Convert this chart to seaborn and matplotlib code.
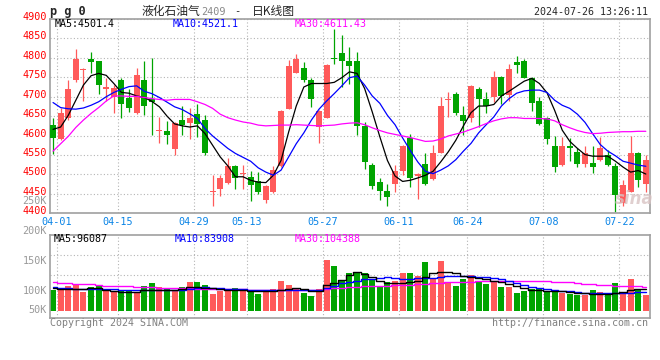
import matplotlib
matplotlib.use("Agg")
import matplotlib.pyplot as plt
import matplotlib.transforms as mtransforms
import numpy as np
import pandas as pd
import seaborn as sns

# pg0 daily bars, 2024-04-01 .. 2024-07-26 (79 sessions)
opens = [4628, 4592, 4644, 4742, 4768, 4797, 4791, 4721, 4699, 4744,
         4697, 4657, 4742, 4694, 4611, 4613, 4565, 4639, 4632, 4656,
         4641, 4456, 4463, 4479, 4521, 4500, 4494, 4483, 4433, 4455,
         4521, 4668, 4761, 4773, 4744, 4622, 4646, 4800, 4812, 4792,
         4791, 4625, 4524, 4481, 4457, 4475, 4508, 4594, 4496, 4528,
         4487, 4554, 4692, 4706, 4654, 4644, 4721, 4695, 4700, 4752,
         4704, 4790, 4791, 4749, 4690, 4644, 4574, 4524, 4574, 4558,
         4526, 4529, 4536, 4549, 4522, 4427, 4455, 4556, 4475]
highs = [4644, 4671, 4742, 4822, 4774, 4815, 4791, 4747, 4730, 4747,
         4720, 4773, 4792, 4800, 4648, 4637, 4635, 4675, 4670, 4680,
         4652, 4498, 4498, 4542, 4524, 4524, 4509, 4506, 4472, 4521,
         4665, 4794, 4810, 4790, 4747, 4667, 4785, 4873, 4859, 4828,
         4816, 4635, 4529, 4491, 4476, 4525, 4577, 4603, 4504, 4555,
         4577, 4700, 4711, 4711, 4675, 4730, 4725, 4711, 4766, 4754,
         4784, 4804, 4796, 4751, 4700, 4647, 4600, 4596, 4594, 4568,
         4572, 4573, 4596, 4562, 4530, 4486, 4599, 4558, 4549]
lows = [4553, 4588, 4640, 4738, 4689, 4760, 4707, 4690, 4659, 4646,
        4660, 4655, 4652, 4601, 4582, 4579, 4549, 4601, 4591, 4596,
        4549, 4420, 4445, 4476, 4462, 4463, 4431, 4450, 4426, 4453,
        4519, 4668, 4760, 4738, 4673, 4581, 4646, 4785, 4725, 4734,
        4601, 4515, 4462, 4433, 4420, 4455, 4498, 4467, 4436, 4472,
        4485, 4554, 4647, 4652, 4601, 4634, 4622, 4657, 4687, 4681,
        4689, 4762, 4747, 4663, 4628, 4579, 4505, 4522, 4534, 4518,
        4520, 4503, 4534, 4522, 4403, 4420, 4455, 4468, 4455]
closes = [4594, 4659, 4721, 4798, 4770, 4789, 4730, 4724, 4723, 4682,
          4671, 4757, 4676, 4687, 4613, 4601, 4632, 4628, 4644, 4631,
          4554, 4458, 4492, 4521, 4491, 4502, 4472, 4454, 4469, 4512,
          4663, 4780, 4797, 4743, 4694, 4664, 4781, 4797, 4792, 4779,
          4625, 4532, 4470, 4457, 4441, 4510, 4573, 4491, 4502, 4476,
          4556, 4676, 4694, 4659, 4637, 4727, 4695, 4676, 4752, 4702,
          4771, 4781, 4749, 4683, 4631, 4591, 4518, 4572, 4569, 4526,
          4556, 4518, 4569, 4524, 4446, 4474, 4556, 4485, 4536]

ma5 = [4616, 4622, 4652, 4691, 4730, 4754, 4760, 4755, 4734, 4711,
       4709, 4702, 4698, 4688, 4674, 4650, 4630, 4625, 4622, 4625,
       4605, 4575, 4545, 4522, 4494, 4494, 4485, 4480, 4479, 4498,
       4536, 4609, 4676, 4725, 4734, 4734, 4734, 4737, 4749, 4764,
       4760, 4721, 4661, 4597, 4536, 4496, 4482, 4485, 4491, 4498,
       4508, 4532, 4558, 4588, 4625, 4659, 4676, 4676, 4680, 4702,
       4714, 4727, 4740, 4747, 4734, 4710, 4665, 4614, 4585, 4567,
       4551, 4547, 4547, 4547, 4534, 4519, 4506, 4510, 4501]
ma10 = [4685, 4672, 4669, 4668, 4671, 4678, 4687, 4700, 4711, 4719,
        4726, 4728, 4714, 4708, 4698, 4686, 4674, 4667, 4656, 4644,
        4618, 4599, 4583, 4567, 4554, 4544, 4534, 4517, 4506, 4498,
        4511, 4545, 4579, 4607, 4640, 4668, 4689, 4708, 4728, 4749,
        4753, 4730, 4702, 4683, 4652, 4628, 4594, 4562, 4532, 4508,
        4502, 4511, 4522, 4538, 4560, 4580, 4607, 4628, 4648, 4676,
        4695, 4709, 4715, 4717, 4717, 4711, 4691, 4678, 4670, 4655,
        4634, 4605, 4577, 4560, 4548, 4534, 4529, 4524, 4521]
ma30 = [4560, 4579, 4598, 4621, 4640, 4657, 4672, 4689, 4702, 4702,
        4701, 4701, 4698, 4695, 4693, 4691, 4693, 4693, 4693, 4687,
        4680, 4670, 4655, 4646, 4640, 4635, 4632, 4627, 4625, 4626,
        4627, 4627, 4628, 4627, 4626, 4625, 4626, 4627, 4630, 4632,
        4633, 4628, 4620, 4613, 4607, 4603, 4599, 4595, 4590, 4585,
        4586, 4591, 4599, 4604, 4609, 4616, 4623, 4631, 4638, 4643,
        4646, 4646, 4644, 4644, 4644, 4643, 4638, 4628, 4620, 4613,
        4608, 4605, 4606, 4608, 4609, 4610, 4610, 4611, 4611]

# volume in thousands
volume = [101.1, 103.9, 107.8, 109.4, 98.3, 106.7, 108.3, 99.4, 99.4, 99.4,
          100.0, 98.3, 107.8, 113.3, 106.7, 103.9, 100.0, 106.7, 115.0, 115.0,
          108.9, 95.0, 100.0, 102.8, 105.0, 101.1, 101.1, 95.0, 100.6, 102.8,
          116.1, 109.4, 105.0, 96.7, 91.7, 102.8, 151.1, 141.7, 116.1, 130.0,
          131.7, 128.9, 119.4, 106.7, 115.0, 116.1, 130.0, 130.0, 124.4, 148.3,
          120.6, 150.0, 115.0, 107.8, 119.4, 126.1, 116.1, 111.7, 113.9, 106.7,
          106.7, 96.7, 100.0, 102.2, 103.3, 97.8, 101.1, 96.7, 94.4, 92.8,
          92.8, 101.1, 98.3, 92.8, 113.3, 94.4, 119.4, 102.2, 92.8]
vol_ma5 = [104.4, 103.3, 102.8, 102.8, 102.8, 103.9, 103.9, 100.6, 100.0, 98.3,
           98.3, 98.3, 100.6, 101.1, 101.7, 101.1, 101.1, 102.8, 106.7, 106.7,
           105.0, 105.0, 102.8, 101.1, 101.1, 100.6, 99.4, 99.4, 98.9, 98.9,
           101.1, 102.8, 103.9, 102.2, 100.0, 100.0, 109.4, 113.3, 117.8, 126.1,
           131.1, 127.8, 122.2, 116.7, 113.3, 112.2, 113.3, 115.0, 116.7, 122.2,
           128.9, 130.6, 131.1, 128.9, 125.0, 122.2, 120.6, 118.9, 116.7, 114.4,
           111.1, 107.8, 103.9, 101.1, 100.6, 100.0, 100.0, 99.4, 98.3, 96.7,
           95.6, 95.0, 94.4, 94.4, 95.6, 98.3, 101.1, 102.2, 102.2]
vol_ma10 = [105.6, 105.0, 103.9, 103.3, 102.8, 102.8, 102.2, 102.2, 102.2, 101.7,
            101.1, 101.1, 101.1, 101.1, 101.1, 101.1, 101.1, 101.7, 102.8, 103.9,
            105.6, 105.0, 103.9, 103.3, 102.8, 102.2, 101.7, 101.1, 101.1, 101.1,
            101.1, 101.1, 101.1, 101.1, 100.6, 100.6, 103.9, 108.3, 113.3, 115.0,
            116.7, 118.9, 120.0, 121.7, 122.2, 120.6, 119.4, 120.0, 120.6, 121.1,
            121.7, 122.8, 124.4, 124.4, 124.4, 123.9, 123.3, 122.2, 120.6, 118.9,
            116.1, 113.3, 109.4, 106.7, 103.9, 102.2, 101.1, 100.0, 98.9, 97.8,
            96.7, 96.1, 95.6, 95.6, 95.6, 96.1, 96.7, 97.2, 98.3]
vol_ma30 = [114.4, 113.3, 112.2, 111.7, 111.1, 110.6, 109.4, 108.3, 107.8, 107.2,
            107.2, 106.7, 106.1, 105.6, 105.0, 104.4, 103.9, 103.9, 103.9, 103.3,
            103.3, 103.3, 102.8, 102.8, 102.2, 102.2, 101.7, 101.7, 101.1, 101.1,
            101.1, 101.1, 101.1, 101.1, 101.1, 101.1, 102.2, 103.9, 105.0, 106.1,
            106.7, 107.2, 107.8, 107.8, 108.3, 108.9, 109.4, 110.0, 110.6, 111.1,
            112.2, 113.3, 113.9, 114.4, 115.0, 115.0, 115.6, 116.1, 116.1, 116.7,
            116.7, 116.7, 116.7, 116.7, 116.1, 115.6, 115.0, 114.4, 113.9, 112.8,
            111.7, 110.6, 109.4, 108.9, 108.3, 108.3, 107.8, 107.2, 106.7]

date_ticks = [0, 8, 18, 25, 35, 45, 54, 64, 74]
date_labels = ['04-01', '04-15', '04-29', '05-13', '05-27', '06-11', '06-24', '07-08', '07-22']
price_ticks = [4400, 4450, 4500, 4550, 4600, 4650, 4700, 4750, 4800, 4850, 4900]
vol_ticks = [250, 200, 150, 100]
vol_tick_labels = ['250K', '200K', '150K', '100K']

RED = '#ff5a5a'
GREEN = '#00a400'
BLUE = '#0a84e6'
GRAY = '#999999'
VOL_BASE = 66.7

sns.set_theme(style="white")
plt.rcParams['font.family'] = ['DejaVu Sans Mono', 'Noto Sans CJK SC']

df = pd.DataFrame({'open': opens, 'high': highs, 'low': lows, 'close': closes,
                   'ma5': ma5, 'ma10': ma10, 'ma30': ma30, 'volume': volume,
                   'vma5': vol_ma5, 'vma10': vol_ma10, 'vma30': vol_ma30})
df['idx'] = np.arange(len(df))
df['color'] = np.where(df['close'] >= df['open'], RED, GREEN)

W, H = 660, 360
fig = plt.figure(figsize=(W / 100, H / 100), dpi=100)


def box(l, t, r, b):
    return [l / W, 1 - b / H, (r - l) / W, (b - t) / H]


def px(x, y):
    return x / W, 1 - y / H


ax = fig.add_axes(box(50, 19, 650, 213.3))
axv = fig.add_axes(box(50, 234.7, 650, 317.7))

# candles
ax.vlines(df['idx'], df['low'], df['high'], colors=df['color'], lw=0.9, zorder=2)
body = (df['close'] - df['open']).abs().clip(lower=2.5)
ax.bar(df['idx'], body, bottom=df[['open', 'close']].min(axis=1), width=0.78,
       color=df['color'], linewidth=0, zorder=3)
sns.lineplot(data=df, x='idx', y='ma5', color='black', lw=0.9, ax=ax, zorder=4)
sns.lineplot(data=df, x='idx', y='ma10', color='#0000ff', lw=0.9, ax=ax, zorder=4)
sns.lineplot(data=df, x='idx', y='ma30', color='#ff00ff', lw=0.9, ax=ax, zorder=4)

# volume
axv.bar(df['idx'], df['volume'] - VOL_BASE, bottom=VOL_BASE, width=0.78,
        color=df['color'], linewidth=0, zorder=2)
for col, c in [('vma30', '#ff00ff'), ('vma10', '#0000ff'), ('vma5', 'black')]:
    sns.lineplot(data=df, x='idx', y=col, color=c, lw=1.0, drawstyle='steps-mid',
                 ax=axv, zorder=3)

grid_kw = dict(color='#b4b4b4', ls=(0, (1, 2)), lw=0.8)
for a in (ax, axv):
    a.set_xlim(-0.4, 78.55)
    a.set_xticks([i + 0.5 for i in date_ticks])
    a.set_xlabel('')
    a.set_ylabel('')
    a.set_axisbelow(True)
    for s in a.spines.values():
        s.set_visible(True)
        s.set_color('#a0a0a0')
        s.set_linewidth(1.2)

ax.set_ylim(4400, 4900)
ax.set_yticks(price_ticks)
ax.set_yticklabels([str(p) for p in price_ticks], color='#ff0000', fontsize=7.3)
ax.set_xticklabels(date_labels, color=BLUE, fontsize=7.3)
ax.tick_params(axis='both', length=0, pad=2.5)
ax.grid(True, **grid_kw)
shift = mtransforms.ScaledTranslation(0, 3 / 100, fig.dpi_scale_trans)
for lab in ax.get_yticklabels():
    lab.set_transform(lab.get_transform() + shift)

axv.set_ylim(55, 193.3)
axv.set_yticks([])
axv.set_xticklabels([])
axv.tick_params(axis='both', length=0)
axv.grid(True, axis='x', **grid_kw)
lo, hi = axv.get_ylim()
for f in (0.26, 0.51, 0.755):
    axv.axhline(lo + f * (hi - lo), zorder=1, **grid_kw)
for v, t in zip(vol_ticks, vol_tick_labels):
    axv.text(-0.005, v, t, transform=axv.get_yaxis_transform(), ha='right', va='center',
             color=GRAY, fontsize=7.3, clip_on=False)
axv.text(-0.005, 67.8, '50K', transform=axv.get_yaxis_transform(), ha='right',
         va='center', color=GRAY, fontsize=7.3, clip_on=False)

# header
fig.text(*px(50, 11), 'p g 0', fontsize=8.6, fontweight='bold', ha='left', va='center')
fig.text(*px(142, 11), '液化石油气', family=['Noto Sans CJK SC'], fontsize=8.5, ha='left', va='center')
fig.text(*px(201, 12), '2409', color='#888888', fontsize=7.3, ha='left', va='center')
fig.text(*px(234, 11), '-', fontsize=7.5, ha='left', va='center')
fig.text(*px(252, 11), '日K线图', family=['Noto Sans CJK SC'], fontsize=8.5, ha='left', va='center')
fig.text(*px(648, 12), '2024-07-26 13:26:11', fontsize=7.2, ha='right', va='center')

# legends
fig.text(*px(55, 24), 'MA5:4501.4', color='black', fontsize=7.2, ha='left', va='center')
fig.text(*px(173, 24), 'MA10:4521.1', color='#0000ff', fontsize=7.2, ha='left', va='center')
fig.text(*px(295, 24), 'MA30:4611.43', color='#ff00ff', fontsize=7.2, ha='left', va='center')
fig.text(*px(54, 238.5), 'MA5:96087', color='black', fontsize=7.2, ha='left', va='center')
fig.text(*px(175, 238.5), 'MA10:83908', color='#0000ff', fontsize=7.2, ha='left', va='center')
fig.text(*px(295, 238.5), 'MA30:104388', color='#ff00ff', fontsize=7.2, ha='left', va='center')

# footer + watermark
fig.text(*px(50, 323.5), 'Copyright 2024 SINA.COM', color='#808080', fontsize=7.2, ha='left', va='center')
fig.text(*px(648, 323.5), 'http://finance.sina.com.cn', color='#808080', fontsize=7.2, ha='right', va='center')
fig.text(*px(634, 199), 'sina', color='#d9c4c4', fontsize=12, fontstyle='italic',
         fontweight='bold', family=['DejaVu Sans'], ha='center', va='center', alpha=0.8)

fig.savefig('out.png', dpi=100)
